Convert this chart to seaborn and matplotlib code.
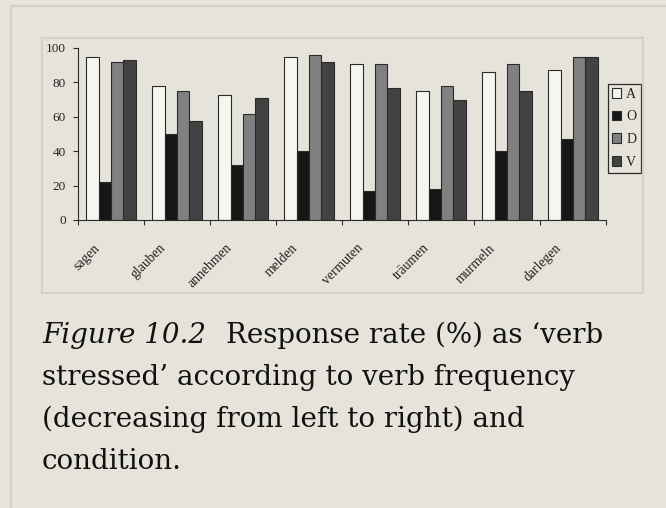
import os
import numpy as np
import pandas as pd
import matplotlib
matplotlib.use("Agg")
import matplotlib.pyplot as plt
import matplotlib.transforms as mtransforms
from matplotlib.font_manager import FontProperties
from matplotlib.patches import Rectangle
from matplotlib.lines import Line2D
import seaborn as sns

# response rate (%) per verb and condition
verbs = ["sagen", "glauben", "annehmen", "melden", "vermuten", "träumen", "murmeln", "darlegen"]
conditions = ["A", "O", "D", "V"]
rate_A = [95, 78, 72.5, 95, 90.5, 75, 86, 87.5]
rate_O = [22, 50, 32, 40, 17, 18, 40, 47]
rate_D = [92, 75, 61.5, 96, 90.5, 78, 90.5, 94.5]
rate_V = [93, 57.5, 71, 92, 76.5, 70, 75, 94.5]
y_ticks = [0, 20, 40, 60, 80, 100]

caption_fig = "Figure 10.2"
caption_lines = [
    "Response rate (%) as \u2018verb",
    "stressed\u2019 according to verb frequency",
    "(decreasing from left to right) and",
    "condition.",
]

BG = "#e6e4da"
BORDER = "#d0d0cc"
INK = "#2b2b2b"
colors = {"A": "#f6f6f0", "O": "#161616", "D": "#808080", "V": "#424242"}

W, H = 666, 508
sns.set_style("ticks")
plt.rcParams["font.family"] = ["Liberation Serif", "DejaVu Serif"]

ttf_dir = os.path.join(matplotlib.get_data_path(), "fonts", "ttf")
cap_size = 20
fp_reg = FontProperties(fname=os.path.join(ttf_dir, "DejaVuSerif.ttf"), size=cap_size)
fp_it = FontProperties(fname=os.path.join(ttf_dir, "DejaVuSerif-Italic.ttf"), size=cap_size)

df = pd.DataFrame({
    "verb": np.repeat(verbs, 4),
    "cond": conditions * len(verbs),
    "rate": [v for quad in zip(rate_A, rate_O, rate_D, rate_V) for v in quad],
})

fig = plt.figure(figsize=(W / 100, H / 100), dpi=100, facecolor=BG)


def fx(px):
    return px / W


def fy(py):
    return 1 - py / H


# page frame and chart image frame
fig.add_artist(Line2D([fx(11), fx(666)], [fy(6), fy(6)], color=BORDER, lw=1.6))
fig.add_artist(Line2D([fx(11), fx(11)], [fy(6), fy(508)], color=BORDER, lw=1.6))
fig.add_artist(Rectangle((fx(42), fy(293)), fx(643) - fx(42), fy(38) - fy(293),
                         transform=fig.transFigure, fill=False, ec=BORDER, lw=1.6))

ax = fig.add_axes([fx(78), fy(220), fx(606) - fx(78), fy(48) - fy(220)])
ax.set_facecolor(BG)
sns.barplot(data=df, x="verb", y="rate", hue="cond", hue_order=conditions,
            palette=colors, saturation=1, width=0.75, errorbar=None,
            edgecolor=INK, linewidth=0.8, ax=ax)

ax.set_xlim(-0.5, len(verbs) - 0.5)
ax.set_ylim(0, 100)
ax.set_yticks(y_ticks)
ax.set_yticklabels([str(t) for t in y_ticks], fontsize=9.5, color="#222222")
ax.set_xticks(range(len(verbs)))
ax.set_xticklabels(verbs, rotation=45, ha="right", va="top", fontsize=9.8, color="#222222")
ax.set_xticks(np.arange(-0.5, len(verbs)), minor=True)
ax.tick_params(axis="x", which="major", length=0, pad=15.5)
ax.tick_params(axis="x", which="minor", length=3.6, width=0.8, color=INK, direction="out")
ax.tick_params(axis="y", length=3.6, width=0.8, color=INK, direction="out", pad=5)
shift = mtransforms.ScaledTranslation(-0.09, 0, fig.dpi_scale_trans)
for lab in ax.get_xticklabels():
    lab.set_transform(lab.get_transform() + shift)
ax.set_xlabel("")
ax.set_ylabel("")
sns.despine(ax=ax)
for s in ["left", "bottom"]:
    ax.spines[s].set_color(INK)
    ax.spines[s].set_linewidth(0.8)

handles, labels = ax.get_legend_handles_labels()
leg = ax.legend(handles, labels, loc="upper left", bbox_to_anchor=(fx(607.5), fy(83.5)),
                bbox_transform=fig.transFigure, borderaxespad=0, frameon=True,
                fancybox=False, framealpha=1, facecolor=BG, edgecolor=INK,
                fontsize=10, handlelength=0.7, handleheight=0.7, handletextpad=0.35,
                labelspacing=0.7, borderpad=0.3)
leg.get_frame().set_linewidth(0.9)
for t in leg.get_texts():
    t.set_color("#222222")

# caption
base_y = [343, 385, 427, 469]
renderer = fig.canvas.get_renderer()
t_it = fig.text(fx(42), fy(base_y[0]), caption_fig, fontproperties=fp_it,
                va="baseline", ha="left", color="#111111")
bb = t_it.get_window_extent(renderer)
fig.text((bb.x1 + 20) / W, fy(base_y[0]), caption_lines[0], fontproperties=fp_reg,
         va="baseline", ha="left", color="#111111")
for line, y in zip(caption_lines[1:], base_y[1:]):
    fig.text(fx(42), fy(y), line, fontproperties=fp_reg,
             va="baseline", ha="left", color="#111111")

fig.savefig("out.png", dpi=100, facecolor=BG)
